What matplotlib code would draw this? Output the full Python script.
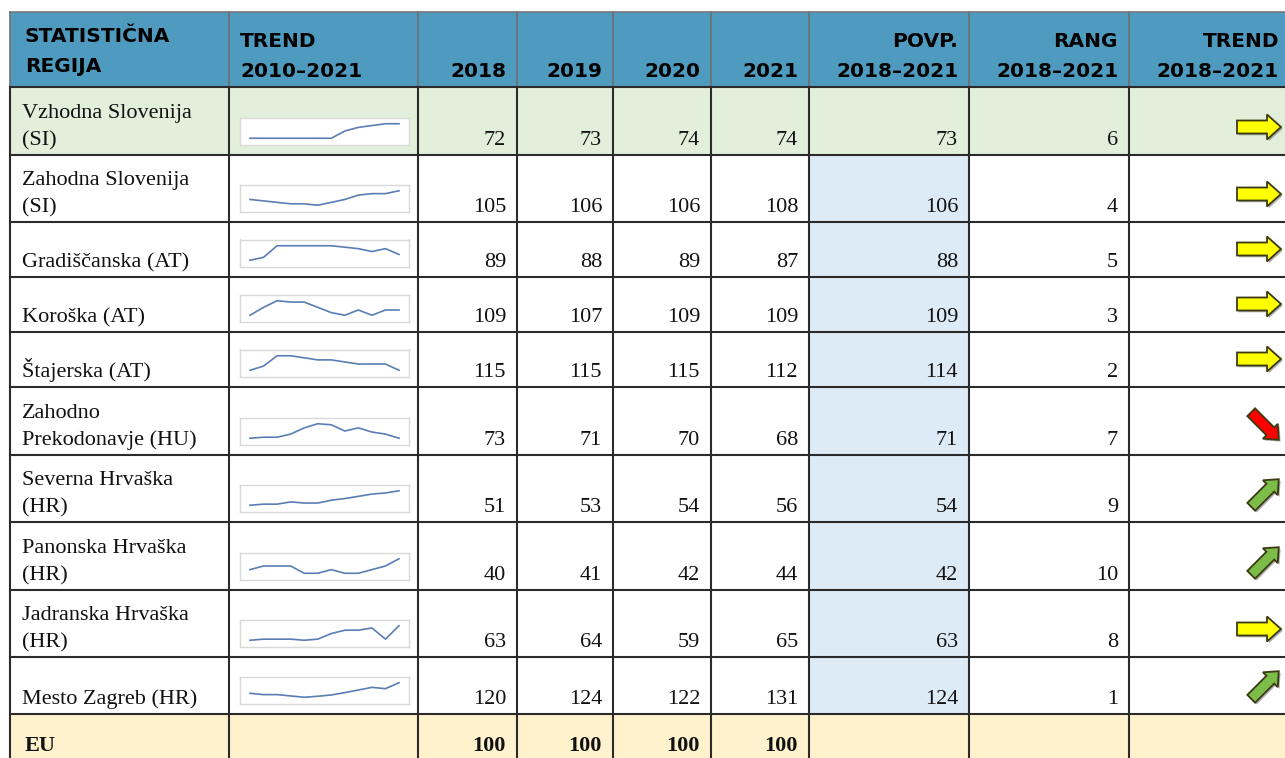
import matplotlib
matplotlib.use("Agg")
import matplotlib.pyplot as plt
from matplotlib.patches import Rectangle, Polygon
import numpy as np

# ---- data -------------------------------------------------------------
regions = [
    "Vzhodna Slovenija\n(SI)",
    "Zahodna Slovenija\n(SI)",
    "Gradiščanska (AT)",
    "Koroška (AT)",
    "Štajerska (AT)",
    "Zahodno\nPrekodonavje (HU)",
    "Severna Hrvaška\n(HR)",
    "Panonska Hrvaška\n(HR)",
    "Jadranska Hrvaška\n(HR)",
    "Mesto Zagreb (HR)",
]
years = list(range(2010, 2022))
trend_series = [
    [66, 66, 66, 66, 66, 66, 66, 70, 72, 73, 74, 74],
    [102, 101, 100, 99, 99, 98, 100, 102, 105, 106, 106, 108],
    [85, 86, 90, 90, 90, 90, 90, 89.5, 89, 88, 89, 87],
    [107, 110, 112.5, 112, 112, 110, 108, 107, 109, 107, 109, 109],
    [112, 114, 119, 119, 118, 117, 117, 116, 115, 115, 115, 112],
    [68, 68.5, 68.5, 70, 73, 75, 74.5, 71.5, 73, 71, 70, 68],
    [43, 44, 44, 46, 45, 45, 47.5, 49, 51, 53, 54, 56],
    [41, 42, 42, 42, 40, 40, 41, 40, 40, 41, 42, 44],
    [58.5, 59, 59, 59, 58.5, 59, 61.5, 63, 63, 64, 59, 65],
    [115, 113, 113, 111, 109, 110.5, 112.5, 116, 120, 124, 122, 131],
]
v2018 = [72, 105, 89, 109, 115, 73, 51, 40, 63, 120]
v2019 = [73, 106, 88, 107, 115, 71, 53, 41, 64, 124]
v2020 = [74, 106, 89, 109, 115, 70, 54, 42, 59, 122]
v2021 = [74, 108, 87, 109, 112, 68, 56, 44, 65, 131]
avg_1821 = [73, 106, 88, 109, 114, 71, 54, 42, 63, 124]
rank_1821 = [6, 4, 5, 3, 2, 7, 9, 10, 8, 1]
trend_dir = ["flat", "flat", "flat", "flat", "flat", "down", "up", "up", "flat", "up"]
eu_label = "EU"
eu_values = [100, 100, 100, 100]

headers = [
    ("STATISTIČNA", "REGIJA"),
    ("TREND", "2010–2021"),
    ("", "2018"),
    ("", "2019"),
    ("", "2020"),
    ("", "2021"),
    ("POVP.", "2018–2021"),
    ("RANG", "2018–2021"),
    ("TREND", "2018–2021"),
]

# ---- layout (pixels) --------------------------------------------------
W, H = 1285, 758
col_edges = [10, 229, 418, 517, 613, 711, 809, 969, 1129, 1290]
row_edges = [87, 155, 222, 277, 332, 387, 455, 522, 590, 657, 714, 770]
header_top = 12

HEAD_BG = "#4f9bbf"
GREEN_BG = "#e2efda"
BLUE_BG = "#ddebf7"
EU_BG = "#fff2cc"
GRID = "#2b2b2b"
SPARK = "#5a7db5"

serif = ["Liberation Serif", "DejaVu Serif"]
sans = ["DejaVu Sans"]

fig = plt.figure(figsize=(W / 100, H / 100), dpi=100)
ax = fig.add_axes([0, 0, 1, 1])
ax.set_xlim(0, W)
ax.set_ylim(H, 0)
ax.axis("off")

# backgrounds
ax.add_patch(Rectangle((col_edges[0], header_top), W, row_edges[0] - header_top,
                       facecolor=HEAD_BG, edgecolor="none", zorder=0))
ax.add_patch(Rectangle((col_edges[0], row_edges[0]), W, row_edges[1] - row_edges[0],
                       facecolor=GREEN_BG, edgecolor="none", zorder=0))
ax.add_patch(Rectangle((col_edges[6], row_edges[1]), col_edges[7] - col_edges[6],
                       row_edges[10] - row_edges[1], facecolor=BLUE_BG, edgecolor="none", zorder=0))
ax.add_patch(Rectangle((col_edges[0], row_edges[10]), W, H - row_edges[10],
                       facecolor=EU_BG, edgecolor="none", zorder=0))

# grid lines
ax.plot([col_edges[0], W], [header_top, header_top], color="#777777", lw=1.2, zorder=2)
for x in col_edges:
    ax.plot([x, x], [header_top, row_edges[0]], color="#6f6f6f", lw=1.2, zorder=2)
    ax.plot([x, x], [row_edges[0], H], color=GRID, lw=1.5, zorder=2)
for y in row_edges[:-1]:
    ax.plot([col_edges[0], W], [y, y], color=GRID, lw=1.5, zorder=2)

# header text
for c, (l1, l2) in enumerate(headers):
    if c <= 1:
        x, ha = col_edges[c] + (15 if c == 0 else 11), "left"
    else:
        x, ha = min(col_edges[c + 1] - 11, 1281), "right"
    off = -4.5 if c == 0 else 0
    if l1:
        ax.text(x, 47 + off, l1, ha=ha, va="baseline", fontsize=14.5,
                fontweight="bold", family=sans, color="black", zorder=3)
    ax.text(x, 77 + off, l2, ha=ha, va="baseline", fontsize=14.5,
            fontweight="bold", family=sans, color="black", zorder=3)


def draw_arrow(cx, cy, direction):
    if direction == "flat":
        L, sh, hh, hl, ang, col = 44, 6.5, 12.5, 14, 0, "#ffff00"
    elif direction == "up":
        L, sh, hh, hl, ang, col = 39, 5.5, 10.5, 12, -45, "#7cbd4a"
    else:
        L, sh, hh, hl, ang, col = 39, 5.5, 10.5, 12, 45, "#ff0000"
    pts = np.array([(-L / 2, -sh), (L / 2 - hl, -sh), (L / 2 - hl, -hh), (L / 2, 0),
                    (L / 2 - hl, hh), (L / 2 - hl, sh), (-L / 2, sh)])
    a = np.deg2rad(ang)
    rot = np.array([[np.cos(a), -np.sin(a)], [np.sin(a), np.cos(a)]])
    pts = pts @ rot.T + [cx, cy]
    ax.add_patch(Polygon(pts + [1.8, 1.8], closed=True, facecolor="#555555",
                         edgecolor="none", alpha=0.45, zorder=3))
    ax.add_patch(Polygon(pts, closed=True, facecolor=col, edgecolor="#3a3a10",
                         lw=1.3, zorder=4))


# body rows
for r, name in enumerate(regions):
    top, bottom = row_edges[r], row_edges[r + 1]
    base = bottom - 10
    lines = name.split("\n")
    for k, line in enumerate(lines):
        ax.text(22, base - 27 * (len(lines) - 1 - k), line, ha="left", va="baseline",
                fontsize=16, family=serif, color="#111111", zorder=3)
    vals = [v2018[r], v2019[r], v2020[r], v2021[r], avg_1821[r], rank_1821[r]]
    for c, v in enumerate(vals):
        ax.text(col_edges[c + 3] - 11, base, str(v), ha="right", va="baseline",
                fontsize=16, family=serif, color="#111111", zorder=3)

    # sparkline in its own small axes
    bx0, bx1 = 240, 409
    by1 = bottom - 10.5
    by0 = by1 - 27
    sax = fig.add_axes([bx0 / W, 1 - by1 / H, (bx1 - bx0) / W, (by1 - by0) / H])
    sax.set_facecolor("white")
    sax.plot(years, trend_series[r], color=SPARK, lw=1.2)
    sax.margins(x=0.067, y=0.43)
    sax.set_xticks([])
    sax.set_yticks([])
    for sp in sax.spines.values():
        sp.set_color("#d9d9d9")
        sp.set_linewidth(1.0)

    # trend arrow
    if trend_dir[r] == "flat":
        draw_arrow(1259, bottom - 28, "flat")
    else:
        draw_arrow(1265, bottom - 29, trend_dir[r])

# EU row
eu_base = 751
ax.text(25, eu_base, eu_label, ha="left", va="baseline", fontsize=16,
        fontweight="bold", family=serif, color="#111111", zorder=3)
for c, v in enumerate(eu_values):
    ax.text(col_edges[c + 3] - 11, eu_base, str(v), ha="right", va="baseline",
            fontsize=16, fontweight="bold", family=serif, color="#111111", zorder=3)

fig.savefig("out.png", dpi=100)
